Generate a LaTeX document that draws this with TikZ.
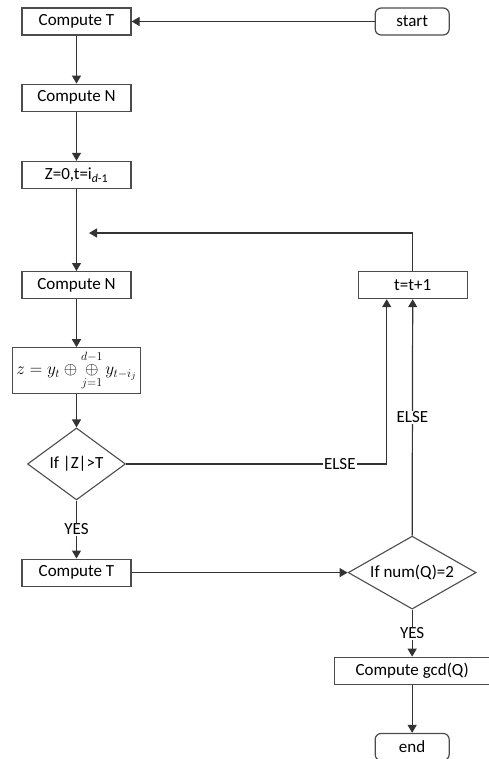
\documentclass[tikz,border=0pt]{standalone}
\usepackage{amsmath,amssymb}
\usepackage{fontspec}
\setmainfont{Carlito}
\usepackage{tikz}
\usetikzlibrary{shapes,arrows.meta,positioning,calc}

\begin{document}
\begin{tikzpicture}[
    x=1pt, y=-1pt,
    font=\fontsize{17}{20}\selectfont,
    box/.style={rectangle, draw=black!70, line width=1.2pt, align=center, inner sep=0pt, minimum width=109pt, minimum height=27pt},
    term/.style={box, rounded corners=6pt, minimum width=74pt},
    cond/.style={diamond, draw=black!70, line width=1.1pt, align=center, inner sep=0pt},
    lbl/.style={fill=white, inner sep=1pt},
    arrow/.style={-{Triangle[length=8pt,width=9pt]}, line width=1.2pt, draw=black!80}
]
\useasboundingbox (0,0) rectangle (488,759);

% Nodes
\node[box] (ct1) at (76.5,21.5) {Compute T};
\node[term, right=243pt of ct1] (start) {start};
\node[box, below=48pt of ct1] (cn1) {Compute N};
\node[box, below=49pt of cn1] (init) {Z=0,t=i\textsubscript{\textit{d}-1}};
\node[box, below=82pt of init] (cn2) {Compute N};
\node[box, below=48pt of cn2, minimum width=128pt, minimum height=46pt, font=\fontsize{18}{20}\selectfont] (xor)
    {$z = y_t \oplus \mathop{\oplus}\limits_{j=1}^{d-1} y_{t-i_j}$};
\node[cond, below=33pt of xor, minimum width=98pt, minimum height=72pt, shape aspect=1.36] (chk) {If |Z|>T};
\node[box, below=58pt of chk] (ct2) {Compute T};

\node[box, right=226pt of cn2] (inc) {t=t+1};
\node[cond, right=216pt of ct2, minimum width=128pt, minimum height=73pt, shape aspect=1.75] (num) {If num(Q)=2};
\node[box, below=47pt of num, minimum width=155pt] (gcd) {Compute gcd(Q)};
\node[term, below=48pt of gcd] (end) {end};

\coordinate (back) at (89,233);
\coordinate (up) at ($(inc.south)+(-26,0)$);

% Edges
\draw[arrow] (start) -- (ct1);
\draw[arrow] (ct1) -- (cn1);
\draw[arrow] (cn1) -- (init);
\draw[arrow] (init) -- (cn2);
\draw[arrow] (cn2) -- (xor);
\draw[arrow] (xor) -- (chk);
\draw[arrow] (chk) -- node[lbl] {YES} (ct2);
\draw[arrow] (chk.east) -- node[lbl, pos=0.82] {ELSE} (up |- chk.east) -- (up);
\draw[arrow] (ct2) -- (num.west);
\draw[arrow] (num.north) -- node[lbl] {ELSE} (inc.south);
\draw[arrow] (inc.north) |- (back);
\draw[arrow] (num) -- node[lbl] {YES} (gcd);
\draw[arrow] (gcd) -- (end);

\end{tikzpicture}
\end{document}
